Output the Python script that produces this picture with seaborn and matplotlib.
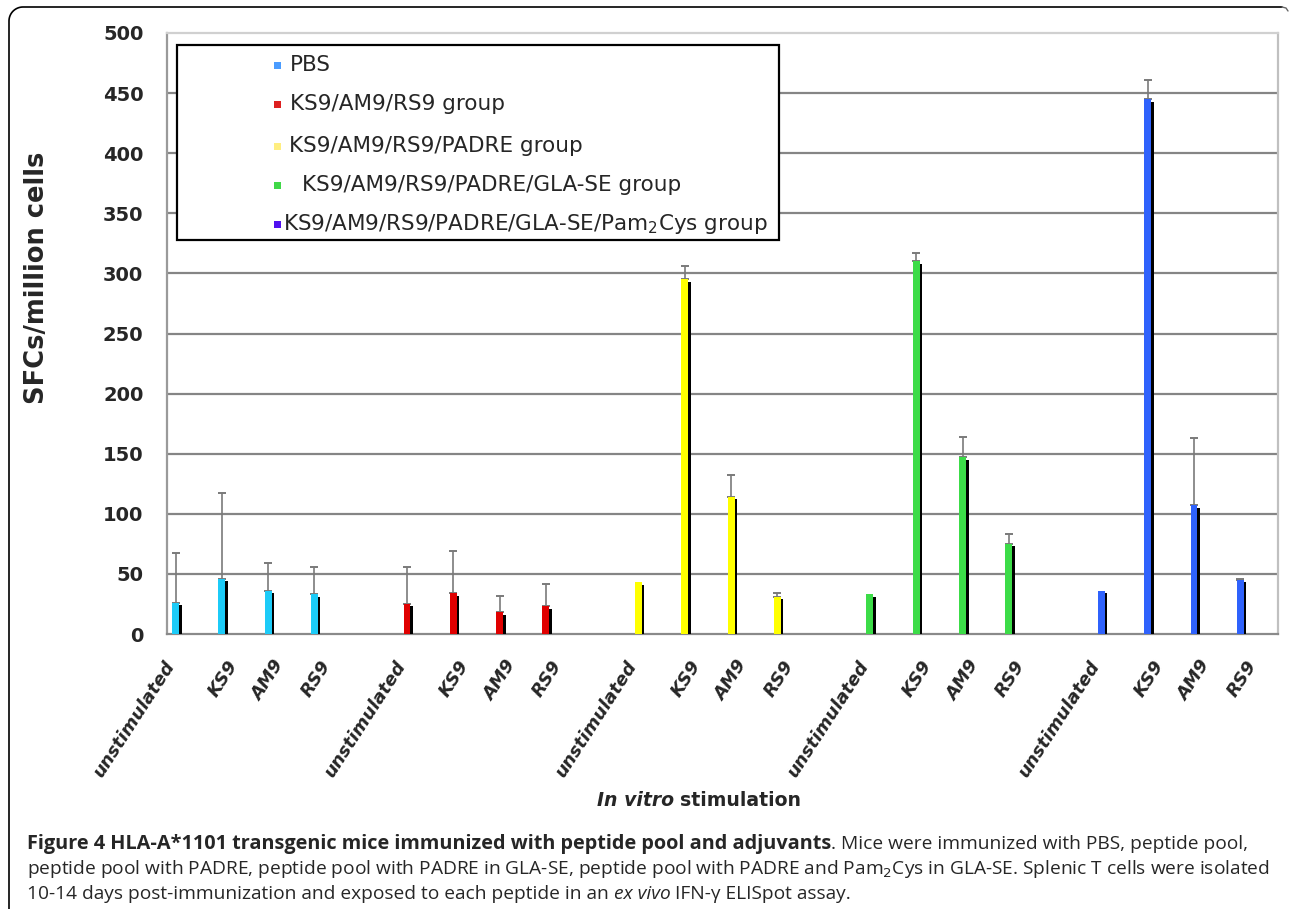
import matplotlib
matplotlib.use("Agg")
import matplotlib.pyplot as plt
import matplotlib.transforms as mtransforms
from matplotlib.patches import Rectangle
from matplotlib.lines import Line2D
import numpy as np
import pandas as pd
import seaborn as sns

# ---------------------------------------------------------------------------
# DATA
# ---------------------------------------------------------------------------
GROUPS = [
    "PBS",
    "KS9/AM9/RS9 group",
    "KS9/AM9/RS9/PADRE group",
    "KS9/AM9/RS9/PADRE/GLA-SE group",
    "KS9/AM9/RS9/PADRE/GLA-SE/Pam$_2$Cys group",
]
STIMULI = ["unstimulated", "KS9", "AM9", "RS9"]

pbs_vals = [26, 46, 36, 33]
pbs_err = [41, 71, 23, 23]
ks_vals = [25, 34, 18, 23]
ks_err = [31, 35, 14, 19]
padre_vals = [43, 295, 114, 31]
padre_err = [0, 11, 18, 3]
gla_vals = [33, 310, 147, 75]
gla_err = [0, 7, 17, 8]
pam_vals = [36, 445, 107, 45]
pam_err = [0, 16, 56, 1]

BAR_COLORS = ["#1CCBF8", "#E00000", "#FFFF00", "#3CDC48", "#2F62FC"]
LEGEND_COLORS = ["#4A9CFF", "#DD2020", "#FFEE80", "#40D848", "#5010F0"]

values = [pbs_vals, ks_vals, padre_vals, gla_vals, pam_vals]
errors = [pbs_err, ks_err, padre_err, gla_err, pam_err]

# slot layout: 4 stimuli per group, one empty slot between groups
rows = []
for g, (vals, errs) in enumerate(zip(values, errors)):
    for s, (v, e) in enumerate(zip(vals, errs)):
        rows.append({"group": GROUPS[g], "stim": STIMULI[s],
                     "slot": g * 5 + s, "value": v, "err": e})
df = pd.DataFrame(rows)
n_slots = 24

W, H = 1290, 909


def fx(x):
    return x / W


def fy(y):
    return 1 - y / H


sns.set_style("white")
plt.rcParams["font.family"] = ["DejaVu Sans"]

fig = plt.figure(figsize=(W / 100, H / 100), dpi=100)
ax = fig.add_axes([fx(167), fy(634), fx(1278) - fx(167), fy(33) - fy(634)])

# shadow bars (dark right edge) then coloured bars
shadow = df.copy()
shadow["x"] = shadow["slot"] - 0.235
shadow["value"] = shadow["value"] - 2
sns.barplot(data=shadow, x="x", y="value", native_scale=True, color="black",
            saturation=1, width=0.1, linewidth=0, ax=ax, errorbar=None,
            zorder=3)

df["x"] = df["slot"] - 0.315
sns.barplot(data=df, x="x", y="value", hue="group", hue_order=GROUPS,
            palette=BAR_COLORS, saturation=1, native_scale=True, dodge=False,
            width=0.15, linewidth=0, ax=ax, errorbar=None, legend=False,
            zorder=4)

# upper-only error bars
has_err = df[df["err"] > 0]
ax.errorbar(has_err["x"], has_err["value"],
            yerr=[np.zeros(len(has_err)), has_err["err"]],
            fmt="none", ecolor="#7a7a7a", elinewidth=1.2, capsize=3,
            capthick=1.4, zorder=2)

ax.set_xlim(-0.5, n_slots - 0.5)
ax.set_ylim(0, 500)
ax.set_yticks(range(0, 501, 50))
ax.grid(False)
for yv in range(50, 451, 50):
    ax.axhline(yv, color="#858585", linewidth=1.6, zorder=1)

ax.spines["left"].set_color("#9a9a9a")
ax.spines["left"].set_linewidth(1.6)
ax.spines["bottom"].set_color("#8a8a8a")
ax.spines["bottom"].set_linewidth(1.6)
ax.spines["top"].set_color("#d0d0d0")
ax.spines["right"].set_color("#c0c0c0")
ax.spines["top"].set_linewidth(1.6)
ax.spines["right"].set_linewidth(1.6)

ax.tick_params(axis="y", which="both", direction="out", length=9,
               color="#9a9a9a", width=1.2, pad=8, labelsize=14)
for lab in ax.get_yticklabels():
    lab.set_fontweight("bold")

# tick marks at slot boundaries; category labels drawn as rotated text
ax.set_xticks([])
ax.set_xticks(np.arange(-0.5, n_slots, 1.0), minor=True)
ax.tick_params(axis="x", which="minor", direction="out", length=6,
               color="#9a9a9a", width=1.0, labelbottom=False)
ax.set_xlabel("")
ax.set_ylabel("")

base = ax.get_xaxis_transform()
for _, r in df.iterrows():
    n = len(r["stim"])
    dx = -(10 + 17 * (n - 3) / 9)
    off = mtransforms.ScaledTranslation(dx / 100, -23 / 100, fig.dpi_scale_trans)
    ax.text(r["slot"], 0, r["stim"], transform=base + off, rotation=57,
            rotation_mode="anchor", ha="right", va="top", fontsize=13,
            fontweight="bold", fontstyle="italic")

# axis titles
fig.text(fx(37), fy(278), "SFCs/million cells", rotation=90, ha="center",
         va="center", fontsize=18.5, fontweight="bold")
t1 = fig.text(fx(597), fy(800), "In vitro", ha="left", va="center",
              fontsize=13.6, fontweight="bold", fontstyle="italic")
fig.canvas.draw()
renderer = fig.canvas.get_renderer()
bb = t1.get_window_extent(renderer)
fig.text((bb.x1 + 6) / W, fy(800), "stimulation", ha="left", va="center",
         fontsize=13.6, fontweight="bold")

# legend box drawn by hand
ax.add_artist(Rectangle((fx(177), fy(240)), fx(779) - fx(177), fy(45) - fy(240),
                        transform=fig.transFigure, facecolor="white",
                        edgecolor="black", linewidth=1.6, zorder=10,
                        clip_on=False))
leg_y = [65, 104, 146, 185, 224]
leg_tx = [290, 290, 289, 302, 283]
for g in range(len(GROUPS)):
    ax.add_artist(Rectangle((fx(274), fy(leg_y[g] + 3.5)), 7 / W, 7 / H,
                            transform=fig.transFigure, facecolor=LEGEND_COLORS[g],
                            edgecolor="none", zorder=11, clip_on=False))
    fig.text(fx(leg_tx[g]), fy(leg_y[g]), GROUPS[g], ha="left", va="center",
             fontsize=15.5, zorder=12)

# outer frame with rounded top-left corner
theta = np.linspace(np.pi, np.pi / 2, 20)
r = 14
cx, cy = 9 + r, 7 + r
xs = [9] + list(cx + r * np.cos(theta)) + [1282]
ys = [909] + list(cy - r * np.sin(theta)) + [7]
fig.add_artist(Line2D([fx(x) for x in xs], [fy(y) for y in ys],
                      transform=fig.transFigure, color="black", linewidth=1.2))
fig.add_artist(Line2D([fx(1282), fx(1286), fx(1288)], [fy(7), fy(8), fy(11)],
                      transform=fig.transFigure, color="#666666", linewidth=1.0))

# caption, drawn run by run
CAP_FONT = ["Open Sans", "DejaVu Sans"]


def draw_runs(x_px, y_px, runs):
    x = x_px
    for text, weight, style, size in runs:
        t = fig.text(fx(x), fy(y_px), text, ha="left", va="baseline",
                     fontsize=size, fontweight=weight, fontstyle=style,
                     family=CAP_FONT)
        fig.canvas.draw()
        ext = t.get_window_extent(fig.canvas.get_renderer())
        x = ext.x1


draw_runs(27, 849, [
    ("Figure 4 HLA-A*1101 transgenic mice immunized with peptide pool and adjuvants",
     "bold", "normal", 14.3),
    (". Mice were immunized with PBS, peptide pool,", "normal", "normal", 13.8),
])
draw_runs(27, 874, [
    ("peptide pool with PADRE, peptide pool with PADRE in GLA-SE, peptide pool with "
     "PADRE and Pam$_2$Cys in GLA-SE. Splenic T cells were isolated",
     "normal", "normal", 13.8),
])
draw_runs(27, 899, [
    ("10-14 days post-immunization and exposed to each peptide in an ", "normal",
     "normal", 13.8),
    ("ex vivo", "normal", "italic", 13.8),
    (" IFN-\u03b3 ELISpot assay.", "normal", "normal", 13.8),
])

fig.savefig("out.png", dpi=100)
